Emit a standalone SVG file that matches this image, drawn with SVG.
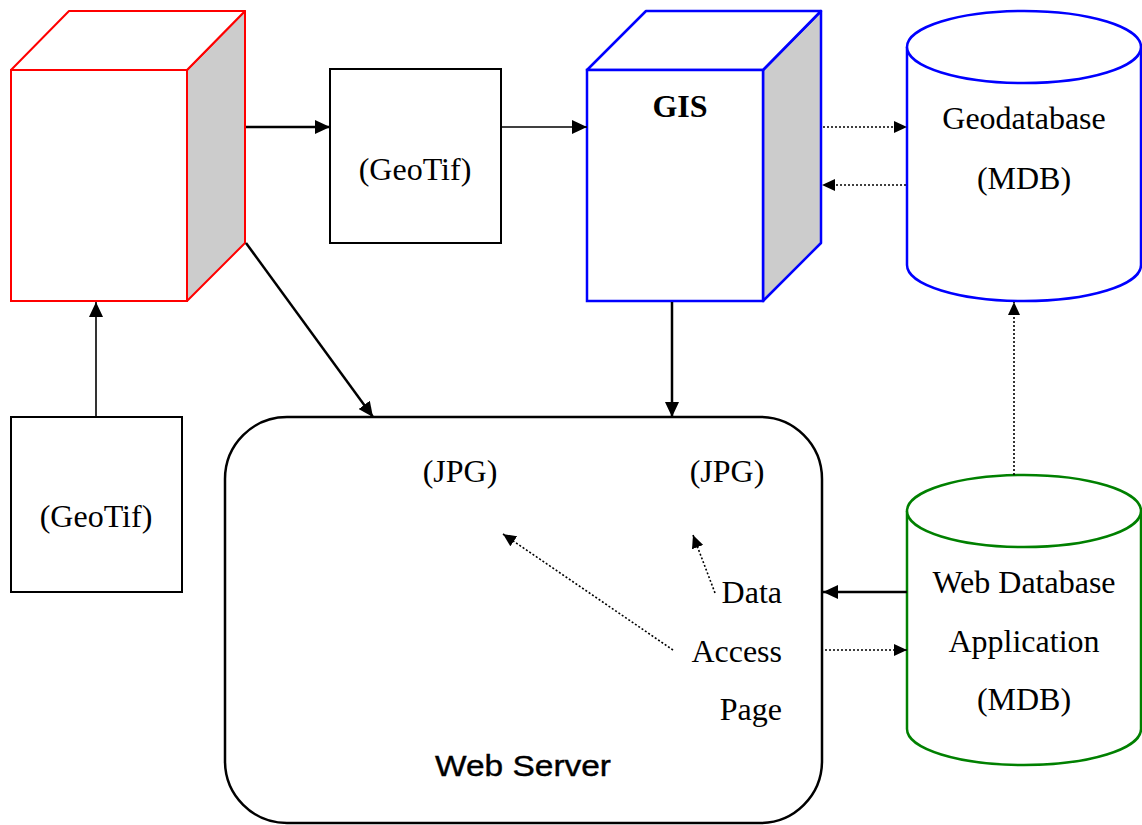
<svg xmlns="http://www.w3.org/2000/svg" width="1142" height="825" viewBox="0 0 1142 825">
<style>
.serif{font-family:"Liberation Serif","Times New Roman",serif;font-size:32px;fill:#000}
.sans{font-family:"Liberation Sans",Arial,sans-serif;font-size:29px;fill:#000;stroke:#000;stroke-width:0.4}
.solid{stroke:#000;stroke-width:2.5;fill:none}
.thin{stroke:#000;stroke-width:1.6;fill:none}
.dot{stroke:#000;stroke-width:1.6;stroke-dasharray:2 2;fill:none}
.box{fill:#fff;stroke:#000;stroke-width:2}
</style>
<defs>
<marker id="ah" markerUnits="userSpaceOnUse" markerWidth="16" markerHeight="14" refX="15" refY="7" orient="auto">
<path d="M0,0 L15,7 L0,14 z" fill="#000"/>
</marker>
<marker id="ahs" markerUnits="userSpaceOnUse" markerWidth="14" markerHeight="12" refX="13" refY="6" orient="auto">
<path d="M0,0 L13,6 L0,12 z" fill="#000"/>
</marker>
</defs>
<rect width="1142" height="825" fill="#fff"/>

<g id="red-cube">
<polygon points="187,70 245,11 245,243 187,301" fill="#cccccc" stroke="#ff0000" stroke-width="2" stroke-linejoin="round"/>
<polygon points="11,70 69,11 245,11 187,70" fill="#fff" stroke="#ff0000" stroke-width="2" stroke-linejoin="round"/>
<rect x="11" y="70" width="176" height="231" fill="#fff" stroke="#ff0000" stroke-width="2"/>
</g>

<g id="geotif-box-1">
<rect class="box" x="330" y="69" width="171" height="174"/>
<text class="serif" x="415" y="180" text-anchor="middle">(GeoTif)</text>
</g>

<g id="gis-cube">
<polygon points="763,70 821,11 821,243 763,301" fill="#cccccc" stroke="#0000ff" stroke-width="2.5" stroke-linejoin="round"/>
<polygon points="587,70 646,11 821,11 763,70" fill="#fff" stroke="#0000ff" stroke-width="2.5" stroke-linejoin="round"/>
<rect x="587" y="70" width="176" height="231" fill="#fff" stroke="#0000ff" stroke-width="2.5"/>
<text class="serif" x="680" y="117" text-anchor="middle" font-weight="bold">GIS</text>
</g>

<g id="geodatabase">
<path d="M907,47 V265 A117,36 0 0 0 1141,265 V47" fill="#fff" stroke="#0000ff" stroke-width="2.5"/>
<ellipse cx="1024" cy="47" rx="117" ry="36" fill="#fff" stroke="#0000ff" stroke-width="2.5"/>
<text class="serif" x="1024" y="129" text-anchor="middle">Geodatabase</text>
<text class="serif" x="1024" y="189" text-anchor="middle">(MDB)</text>
</g>

<g id="geotif-box-2">
<rect class="box" x="11" y="417" width="171" height="175"/>
<text class="serif" x="96" y="527" text-anchor="middle">(GeoTif)</text>
</g>

<g id="web-server">
<rect x="225" y="417" width="597" height="406" rx="62" ry="62" fill="#fff" stroke="#000" stroke-width="2.5"/>
<text class="serif" x="460" y="482" text-anchor="middle">(JPG)</text>
<text class="serif" x="727" y="482" text-anchor="middle">(JPG)</text>
<text class="serif" x="782" y="603" text-anchor="end">Data</text>
<text class="serif" x="782" y="662" text-anchor="end">Access</text>
<text class="serif" x="782" y="720" text-anchor="end">Page</text>
<text class="sans" x="435" y="776" textLength="176" lengthAdjust="spacingAndGlyphs">Web Server</text>
</g>

<g id="web-database">
<path d="M907,511 V729 A117,36 0 0 0 1141,729 V511" fill="#fff" stroke="#008000" stroke-width="2.5"/>
<ellipse cx="1024" cy="511" rx="117" ry="36" fill="#fff" stroke="#008000" stroke-width="2.5"/>
<text class="serif" x="1024" y="593" text-anchor="middle">Web Database</text>
<text class="serif" x="1024" y="652" text-anchor="middle">Application</text>
<text class="serif" x="1024" y="710" text-anchor="middle">(MDB)</text>
</g>

<g id="connectors">
<line class="solid" x1="246" y1="127" x2="330" y2="127" marker-end="url(#ah)"/>
<line class="thin" x1="502" y1="127" x2="587" y2="127" marker-end="url(#ah)"/>
<line class="solid" x1="246" y1="243" x2="373" y2="417" marker-end="url(#ah)"/>
<line class="thin" x1="96" y1="417" x2="96" y2="302" marker-end="url(#ah)"/>
<line class="solid" x1="672" y1="302" x2="672" y2="417" marker-end="url(#ah)"/>
<line class="dot" x1="823" y1="127" x2="907" y2="127" marker-end="url(#ahs)"/>
<line class="dot" x1="906" y1="185" x2="822" y2="185" marker-end="url(#ahs)"/>
<line class="dot" x1="1014" y1="475" x2="1014" y2="302" marker-end="url(#ahs)"/>
<line class="solid" x1="907" y1="592" x2="823" y2="592" marker-end="url(#ah)"/>
<line class="dot" x1="825" y1="650" x2="907" y2="650" marker-end="url(#ahs)"/>
<line class="dot" x1="673" y1="650" x2="503" y2="534" marker-end="url(#ahs)"/>
<line class="dot" x1="715" y1="593" x2="693" y2="535" marker-end="url(#ahs)"/>
</g>
</svg>
